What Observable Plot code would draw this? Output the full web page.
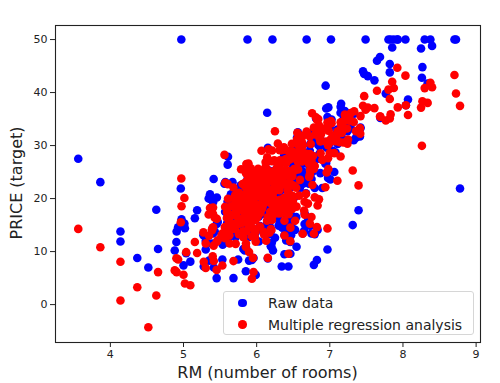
<!DOCTYPE html>
<html><head><meta charset="utf-8">
<script src="https://cdn.jsdelivr.net/npm/d3@7"></script>
<script src="https://cdn.jsdelivr.net/npm/@observablehq/plot@0.6"></script>
<style>
body{margin:0;background:#fff;}
#wrap{position:relative;width:500px;height:383px;font-family:"DejaVu Sans",sans-serif;color:#222;overflow:hidden;}
#chart{position:absolute;left:0;top:0;}
.xlab{position:absolute;left:55px;width:425px;top:363px;text-align:center;font-size:16px;line-height:19px;}
.ylab{position:absolute;left:16px;top:183px;transform:translate(-50%,-50%) rotate(-90deg);font-size:16px;line-height:19px;white-space:nowrap;}
.legend{position:absolute;left:223px;top:291px;width:251px;height:44px;border:1px solid #d6d6d6;border-radius:3px;background:rgba(255,255,255,0.8);box-sizing:border-box;}
.row{position:absolute;left:0;height:20px;font-size:14px;line-height:20px;white-space:nowrap;}
.row span.d{position:absolute;left:14px;top:5.7px;width:8.6px;height:8.6px;border-radius:50%;}
.row span.t{position:absolute;left:44px;top:0;}
</style></head>
<body><div id="wrap"><div id="chart"></div>
<div class="xlab">RM (number of rooms)</div>
<div class="ylab">PRICE (target)</div>
<div class="legend" id="legend"></div>
</div>
<script>
const rm = [6.575,6.421,7.185,6.998,7.147,6.430,6.012,6.172,5.631,6.004,
6.377,6.009,5.889,5.949,6.096,5.834,5.935,5.990,5.456,5.727,
5.570,5.965,6.142,5.813,5.924,5.599,5.813,6.047,6.495,6.674,
5.713,6.072,5.950,5.701,6.096,5.933,5.841,5.850,5.966,6.595,
7.024,6.770,6.169,6.211,6.069,5.682,5.786,6.030,5.399,5.602,
5.963,6.115,6.511,5.998,5.888,7.249,6.383,6.816,6.145,5.927,
5.741,5.966,6.456,6.762,7.104,6.290,5.787,5.878,5.594,5.885,
6.417,5.961,6.065,6.245,6.273,6.286,6.279,6.140,6.232,5.874,
6.727,6.619,6.302,6.167,6.389,6.630,6.015,6.121,7.007,7.079,
6.417,6.405,6.442,6.211,6.249,6.625,6.163,8.069,7.820,7.416,
6.727,6.781,6.405,6.137,6.167,5.851,5.836,6.127,6.474,6.229,
6.195,6.715,5.913,6.092,6.254,5.928,6.176,6.021,5.872,5.731,
5.870,6.004,5.961,5.856,5.879,5.986,5.613,5.693,6.431,5.637,
6.458,6.326,6.372,5.822,5.757,6.335,5.942,6.454,5.857,6.151,
6.174,5.019,5.403,5.468,4.903,6.130,5.628,4.926,5.186,5.597,
6.122,5.404,5.012,5.709,6.129,6.152,5.272,6.943,6.066,6.510,
6.250,7.489,7.802,8.375,5.854,6.101,7.929,5.877,6.319,6.402,
5.875,5.880,5.572,6.416,5.859,6.546,6.020,6.315,6.860,6.980,
7.765,6.144,7.155,6.563,5.604,6.153,7.831,6.782,6.556,7.185,
6.951,6.739,7.178,6.800,6.604,7.875,7.287,7.107,7.274,6.975,
7.135,6.162,7.610,7.853,8.034,5.891,6.326,5.783,6.064,5.344,
5.960,5.404,5.807,6.375,5.412,6.182,5.888,6.642,5.951,6.373,
6.951,6.164,6.879,6.618,8.266,8.725,8.040,7.163,7.686,6.552,
5.981,7.412,8.337,8.247,6.726,6.086,6.631,7.358,6.481,6.606,
6.897,6.095,6.358,6.393,5.593,5.605,6.108,6.226,6.433,6.718,
6.487,6.438,6.957,8.259,6.108,5.876,7.454,8.704,7.333,6.842,
7.203,7.520,8.398,7.327,7.206,5.560,7.014,8.297,7.470,5.920,
5.856,6.240,6.538,7.691,6.758,6.854,7.267,6.826,6.482,6.812,
7.820,6.968,7.645,7.923,7.088,6.453,6.230,6.209,6.315,6.565,
6.861,7.148,6.630,6.127,6.009,6.678,6.549,5.790,6.345,7.041,
6.871,6.590,6.495,6.982,7.236,6.616,7.420,6.849,6.635,5.972,
4.973,6.122,6.023,6.266,6.567,5.705,5.914,5.782,6.382,6.113,
6.426,6.376,6.041,5.708,6.415,6.431,6.312,6.083,5.868,6.333,
6.144,5.706,6.031,6.316,6.310,6.037,5.869,5.895,6.059,5.985,
5.968,7.241,6.540,6.696,6.874,6.014,5.898,6.516,6.635,6.939,
6.490,6.579,5.884,6.728,5.663,5.936,6.212,6.395,6.127,6.112,
6.398,6.251,5.362,5.803,8.780,3.561,4.963,3.863,4.970,6.683,
7.016,6.216,5.875,4.906,4.138,7.313,6.649,6.794,6.380,6.223,
6.968,6.545,5.536,5.520,4.368,5.277,4.652,5.000,4.880,5.390,
5.713,6.051,5.036,6.193,5.887,6.471,6.405,5.747,5.453,5.852,
5.987,6.343,6.404,5.349,5.531,5.683,4.138,5.608,5.617,6.852,
5.757,6.657,4.628,5.155,4.519,6.434,6.782,5.304,5.957,6.824,
6.411,6.006,5.648,6.103,5.565,5.896,5.837,6.202,6.193,6.380,
6.348,6.833,6.425,6.436,6.208,6.629,6.461,6.152,5.935,5.627,
5.818,6.406,6.219,6.485,5.854,6.459,6.341,6.251,6.185,6.417,
6.749,6.655,6.297,7.393,6.728,6.525,5.976,5.936,6.301,6.081,
6.701,6.376,6.317,6.513,6.209,5.759,5.952,6.003,5.926,5.713,
6.167,6.229,6.437,6.980,5.427,6.162,6.484,5.304,6.185,6.229,
6.242,6.750,7.061,5.762,5.871,6.312,6.114,5.905,5.454,5.414,
5.093,5.983,5.983,5.707,5.926,5.670,5.390,5.794,6.019,5.569,
6.027,6.593,6.120,6.976,6.794,6.030];

const price = [24.0,21.6,34.7,33.4,36.2,28.7,22.9,27.1,16.5,18.9,
15.0,18.9,21.7,20.4,18.2,19.9,23.1,17.5,20.2,18.2,
13.6,19.6,15.2,14.5,15.6,13.9,16.6,14.8,18.4,21.0,
12.7,14.5,13.2,13.1,13.5,18.9,20.0,21.0,24.7,30.8,
34.9,26.6,25.3,24.7,21.2,19.3,20.0,16.6,14.4,19.4,
19.7,20.5,25.0,23.4,18.9,35.4,24.7,31.6,23.3,19.6,
18.7,16.0,22.2,25.0,33.0,23.5,19.4,22.0,17.4,20.9,
24.2,21.7,22.8,23.4,24.1,21.4,20.0,20.8,21.2,20.3,
28.0,23.9,24.8,22.9,23.9,26.6,22.5,22.2,23.6,28.7,
22.6,22.0,22.9,25.0,20.6,28.4,21.4,38.7,43.8,33.2,
27.5,26.5,18.6,19.3,20.1,19.5,19.5,20.4,19.8,19.4,
21.7,22.8,18.8,18.7,18.5,18.3,21.2,19.2,20.4,19.3,
22.0,20.3,20.5,17.3,18.8,21.4,15.7,16.2,18.0,14.3,
19.2,19.6,23.0,18.4,15.6,18.1,17.4,17.1,13.3,17.8,
14.0,14.4,13.4,15.6,11.8,13.8,15.6,14.6,17.8,15.4,
21.5,19.6,15.3,19.4,17.0,15.6,13.1,41.3,24.3,23.3,
27.0,50.0,50.0,50.0,22.7,25.0,50.0,23.8,23.8,22.3,
17.4,19.1,23.1,23.6,22.6,29.4,23.2,24.6,29.9,37.2,
39.8,36.2,37.9,32.5,26.4,29.6,50.0,32.0,29.8,34.9,
37.0,30.5,36.4,31.1,29.1,50.0,33.3,30.3,34.6,34.9,
32.9,24.1,42.3,48.5,50.0,22.6,24.4,22.5,24.4,20.0,
21.7,19.3,22.4,28.1,23.7,25.0,23.3,28.7,21.5,23.0,
26.7,21.7,27.5,30.1,44.8,50.0,37.6,31.6,46.7,31.5,
24.3,31.7,41.7,48.3,29.0,24.0,25.1,31.5,23.7,23.3,
22.0,20.1,22.2,23.7,17.6,18.5,24.3,20.5,24.5,26.2,
24.4,24.8,29.6,42.8,21.9,20.9,44.0,50.0,36.0,30.1,
33.8,43.1,48.8,31.0,36.5,22.8,30.7,50.0,43.5,20.7,
21.1,25.2,24.4,35.2,32.4,32.0,33.2,33.1,29.1,35.1,
45.4,35.4,46.0,50.0,32.2,22.0,20.1,23.2,22.3,24.8,
28.5,37.3,27.9,23.9,21.7,28.6,27.1,20.3,22.5,29.0,
24.8,22.0,26.4,33.1,36.1,28.4,33.4,28.2,22.8,20.3,
16.1,22.1,19.4,21.6,23.8,16.2,17.8,19.8,23.1,21.0,
23.8,23.1,20.4,18.5,25.0,24.6,23.0,22.2,19.3,22.6,
19.8,17.1,19.4,22.2,20.7,21.1,19.5,18.5,20.6,19.0,
18.7,32.7,16.5,23.9,31.2,17.5,17.2,23.1,24.5,26.6,
22.9,24.1,18.6,30.1,18.2,20.6,17.8,21.7,22.7,22.6,
25.0,19.9,20.8,16.8,21.9,27.5,21.9,23.1,50.0,50.0,
50.0,50.0,50.0,13.8,13.8,15.0,13.9,13.3,13.1,10.2,
10.4,10.9,11.3,12.3,8.8,7.2,10.5,7.4,10.2,11.5,
15.1,23.2,9.7,13.8,12.7,13.1,12.5,8.5,5.0,6.3,
5.6,7.2,12.1,8.3,8.5,5.0,11.9,27.9,17.2,27.5,
15.0,17.2,17.9,16.3,7.0,7.2,7.5,10.4,8.8,8.4,
16.7,14.2,20.8,13.4,11.7,8.3,10.2,10.9,11.0,9.5,
14.5,14.1,16.1,14.3,11.7,13.4,9.6,8.7,8.4,12.8,
10.5,17.1,18.4,15.4,10.8,11.8,14.9,12.6,14.1,13.0,
13.4,15.2,16.1,17.8,14.9,14.1,12.7,13.5,14.9,20.0,
16.4,17.7,19.5,20.2,21.4,19.9,19.0,19.1,19.1,20.1,
19.9,19.6,23.2,29.8,13.8,13.3,16.7,12.0,14.6,21.4,
23.0,23.7,25.0,21.8,20.6,21.2,19.1,20.6,15.2,7.0,
8.1,13.6,20.1,21.8,24.5,23.1,19.7,18.3,21.2,17.5,
16.8,22.4,20.6,23.9,22.0,11.9];

const predicted = [30.00,25.03,30.57,28.61,27.94,25.26,23.00,19.54,11.52,18.92,
19.00,21.59,20.91,19.55,19.28,19.30,20.53,16.91,16.18,18.41,
12.52,17.67,15.83,13.81,15.68,13.39,15.46,14.71,19.55,20.88,
11.46,18.06,8.81,14.28,13.71,23.81,22.34,23.11,22.92,31.36,
34.22,28.02,25.20,24.61,22.94,22.10,20.42,18.04,9.11,17.21,
21.28,23.97,27.66,24.05,15.36,31.15,24.86,33.11,21.78,21.08,
17.87,18.51,23.99,22.55,23.37,30.36,25.53,21.11,17.42,20.78,
25.20,21.74,24.56,24.04,25.50,23.97,22.95,23.36,21.26,22.43,
28.41,26.99,26.04,25.06,24.78,27.79,22.17,25.89,30.67,30.83,
27.12,27.41,28.94,29.08,27.04,28.62,24.73,35.78,35.11,32.25,
24.58,25.59,19.79,20.31,21.43,18.54,17.19,20.75,22.65,19.77,
20.65,26.53,20.77,20.72,25.17,20.43,23.38,23.69,20.34,20.79,
21.92,22.47,20.56,16.37,20.56,22.48,14.62,15.18,18.94,14.06,
20.04,19.41,20.06,15.76,13.26,17.26,15.88,19.36,13.81,16.45,
13.57,3.99,14.59,12.15,8.73,12.04,15.82,8.51,9.72,14.80,
20.84,18.30,20.12,17.29,22.37,20.10,13.62,33.26,29.03,25.57,
32.71,36.77,40.56,41.85,24.79,25.38,37.20,23.09,26.40,26.65,
22.56,24.29,22.98,29.07,26.52,30.72,25.62,29.14,31.44,32.92,
34.72,27.77,33.89,30.99,22.72,24.77,35.88,33.42,32.41,34.52,
30.76,30.29,32.92,32.11,31.56,40.85,36.13,32.67,34.70,30.09,
30.64,29.29,37.07,42.03,43.19,22.69,23.68,17.85,23.49,17.01,
22.39,17.06,22.74,25.22,11.12,24.51,26.60,28.36,24.92,29.69,
33.18,23.77,32.14,29.75,38.37,39.81,37.59,32.40,35.46,31.23,
24.48,33.29,38.05,37.16,31.71,25.27,30.10,32.72,28.43,28.43,
27.29,23.74,24.12,27.40,16.33,13.40,20.02,19.86,21.29,24.08,
24.21,25.04,24.92,29.95,23.97,21.70,37.51,43.30,36.48,34.99,
34.81,37.17,40.99,34.45,35.83,28.25,31.23,40.84,39.32,25.71,
22.30,27.20,28.51,35.48,36.11,33.80,35.61,34.84,30.35,35.31,
38.80,34.33,40.34,44.67,31.60,27.36,20.10,27.04,27.21,26.91,
33.44,34.40,31.83,25.82,24.43,28.46,27.36,19.54,29.11,31.91,
30.77,28.94,28.88,32.80,33.21,30.77,35.56,32.71,28.64,23.59,
18.54,26.88,23.28,25.55,25.48,20.54,17.62,18.38,24.29,21.33,
24.89,24.87,22.87,19.45,25.12,24.67,23.68,19.34,21.17,24.25,
21.59,19.98,23.34,22.14,21.56,20.62,20.16,19.28,22.17,21.25,
21.43,30.33,22.05,27.71,28.55,16.55,14.78,25.27,27.54,22.15,
20.46,20.55,16.88,25.40,14.32,16.59,19.64,22.72,22.20,19.21,
22.67,18.93,18.23,20.23,37.49,14.28,15.54,10.83,23.80,32.64,
34.61,24.94,26.00,6.13,0.78,25.31,17.74,20.23,15.83,16.84,
14.37,18.48,13.43,13.06,3.28,8.06,6.13,5.62,6.45,14.21,
17.21,17.30,9.89,20.22,17.94,20.30,19.30,16.34,6.55,10.89,
11.88,17.81,18.26,12.98,7.38,8.21,8.07,19.98,13.71,19.85,
15.22,16.96,1.72,11.81,-4.28,9.58,13.37,6.90,6.15,14.61,
19.60,18.12,18.52,13.18,14.63,9.92,16.35,14.08,14.26,13.04,
18.16,18.70,21.53,17.03,15.96,13.36,14.52,8.82,4.87,13.07,
12.71,17.30,18.74,18.06,11.51,11.97,17.68,18.13,17.52,17.23,
16.52,19.41,18.58,22.49,15.28,15.82,12.69,12.88,17.19,18.51,
19.05,20.17,19.77,22.43,20.32,17.89,14.37,16.95,16.98,18.59,
20.17,22.98,22.46,25.58,16.39,16.11,20.53,11.54,19.20,21.86,
23.47,27.10,28.57,21.08,19.46,22.22,19.66,21.33,11.86,8.22,
3.66,13.76,15.93,20.63,20.61,16.89,14.01,19.11,21.30,18.45,
20.47,23.53,22.38,27.63,26.13,22.34];

const xTicks = [4, 5, 6, 7, 8, 9];
const yTicks = [0, 10, 20, 30, 40, 50];
const seriesNames = ["Raw data", "Multiple regression analysis"];
const seriesColors = ["blue", "red"];

const n = Math.min(rm.length, price.length, predicted.length);
const raw = d3.range(n).map(i => ({x: rm[i], y: price[i]}));
const pred = d3.range(n).map(i => ({x: rm[i], y: predicted[i]}));

const chart = Plot.plot({
  width: 500, height: 383,
  marginLeft: 55, marginRight: 20, marginTop: 25, marginBottom: 41,
  style: {fontFamily: "DejaVu Sans, sans-serif", fontSize: "11px", color: "#222", background: "transparent"},
  x: {domain: [3.25, 9.06], ticks: xTicks},
  y: {domain: [-7.15, 52.65], ticks: yTicks},
  marks: [
    Plot.dot(raw, {x: "x", y: "y", r: 4.3, fill: seriesColors[0], stroke: null}),
    Plot.dot(pred, {x: "x", y: "y", r: 4.3, fill: seriesColors[1], stroke: null}),
    Plot.frame({stroke: "#222", strokeWidth: 1.1}),
    Plot.axisX({ticks: xTicks, tickFormat: d3.format("d"), tickSize: 5, tickPadding: 3, label: null, fontSize: 11, stroke: "#222"}),
    Plot.axisY({ticks: yTicks, tickFormat: d3.format("d"), tickSize: 5, tickPadding: 3, label: null, fontSize: 11, stroke: "#222"})
  ]
});
document.getElementById("chart").appendChild(chart);

const legend = document.getElementById("legend");
seriesNames.forEach((name, i) => {
  const row = document.createElement("div");
  row.className = "row";
  row.style.top = (1 + i * 21.6) + "px";
  row.innerHTML = `<span class="d" style="background:${seriesColors[i]}"></span><span class="t">${name}</span>`;
  legend.appendChild(row);
});
</script>
</body></html>
